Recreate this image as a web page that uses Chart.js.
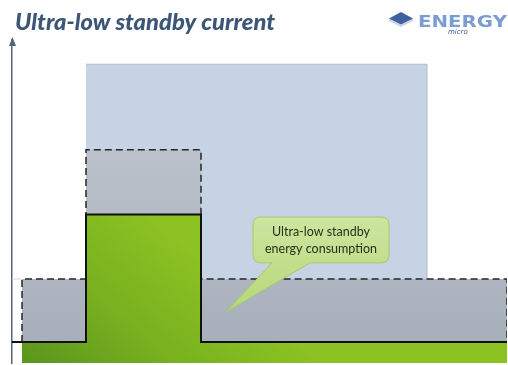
<!DOCTYPE html>
<html>
<head>
<meta charset="utf-8">
<script src="https://cdn.jsdelivr.net/npm/chart.js@4/dist/chart.umd.min.js"></script>
<style>
  html, body { margin: 0; padding: 0; background: #ffffff; overflow: hidden; }
  #wrap { width: 508px; height: 365px; position: relative; }
</style>
</head>
<body>
<div id="wrap"><canvas id="c" width="508" height="365"></canvas></div>
<script>
// Supply current over time (arbitrary units): standby, active burst, standby again
const currentTime  = [0, 2, 14.8, 37.8, 99];
const currentLevel = [6.5, 6.5, 46, 6.5, 6.5];

// Consumption of a conventional MCU (dashed envelope)
const envelopeTime  = [2, 2, 14.8, 37.8, 99, 99];
const envelopeLevel = [6.5, 26, 66, 26, 26, 6.5];

// Active-mode window in the background
const activeTime  = [14.8, 83, 83];
const activeLevel = [92.5, 92.5, 0];

// Short reference mark for the standby level left of the trace
const guideTime  = [0, 2];
const guideLevel = [26, 26];

const titleText = 'Ultra-low standby current';
const calloutLines = ['Ultra-low standby', 'energy consumption'];

const pts = (xs, ys) => xs.map((x, i) => ({ x, y: ys[i] }));

function greenFill(context) {
  const { chart } = context;
  const a = chart.chartArea;
  if (!a) return '#7cb31f';
  const g = chart.ctx.createLinearGradient(a.left + 10, a.bottom, a.left + 138, a.bottom - 149);
  g.addColorStop(0, '#5b951d');
  g.addColorStop(0.5, '#78b01f');
  g.addColorStop(1, '#8cc222');
  return g;
}
function grayFill(context) {
  const { chart } = context;
  const a = chart.chartArea;
  if (!a) return '#aab2bd';
  const g = chart.ctx.createLinearGradient(0, a.top + 100, 0, a.bottom);
  g.addColorStop(0, '#bbc2cc');
  g.addColorStop(1, '#a5adb8');
  return g;
}

const axisArrow = {
  id: 'axisArrow',
  afterDraw(chart) {
    const { ctx } = chart;
    const s = chart.scales.y;
    const x = Math.round(s.right) + 0.5;
    const top = chart.chartArea.top;
    ctx.save();
    ctx.fillStyle = '#55657a';
    ctx.beginPath();
    ctx.moveTo(x, top - 3);
    ctx.lineTo(x - 3.5, top + 6);
    ctx.lineTo(x + 3.5, top + 6);
    ctx.closePath();
    ctx.fill();
    ctx.restore();
  }
};

const callout = {
  id: 'callout',
  afterDatasetsDraw(chart, args, o) {
    const { ctx } = chart;
    const { x, y } = chart.scales;
    const l = x.getPixelForValue(o.box[0]), r = x.getPixelForValue(o.box[1]);
    const t = y.getPixelForValue(o.box[2]), b = y.getPixelForValue(o.box[3]);
    const tx = x.getPixelForValue(o.tip[0]), ty = y.getPixelForValue(o.tip[1]);
    const b1 = x.getPixelForValue(o.base[0]), b2 = x.getPixelForValue(o.base[1]);
    const rad = 8;
    ctx.save();
    ctx.beginPath();
    ctx.moveTo(l + rad, t);
    ctx.lineTo(r - rad, t);
    ctx.quadraticCurveTo(r, t, r, t + rad);
    ctx.lineTo(r, b - rad);
    ctx.quadraticCurveTo(r, b, r - rad, b);
    ctx.lineTo(b2, b);
    ctx.lineTo(tx, ty);
    ctx.lineTo(b1, b);
    ctx.lineTo(l + rad, b);
    ctx.quadraticCurveTo(l, b, l, b - rad);
    ctx.lineTo(l, t + rad);
    ctx.quadraticCurveTo(l, t, l + rad, t);
    ctx.closePath();
    const g = ctx.createLinearGradient(0, t, 0, ty);
    g.addColorStop(0, '#cde5a0');
    g.addColorStop(1, '#b6d878');
    ctx.fillStyle = g;
    ctx.fill();
    ctx.strokeStyle = '#a6cb66';
    ctx.lineWidth = 1;
    ctx.stroke();
    ctx.fillStyle = '#27301c';
    ctx.font = '12.5px Lato, "Open Sans", sans-serif';
    ctx.textAlign = 'center';
    ctx.textBaseline = 'alphabetic';
    const cx = (l + r) / 2;
    o.lines.forEach((s, i) => {
      ctx.fillText(s, cx, o.baseline + i * 16.5);
    });
    ctx.restore();
  }
};

const header = {
  id: 'header',
  afterDraw(chart, args, o) {
    const { ctx } = chart;
    ctx.save();
    // title
    ctx.fillStyle = '#3b5676';
    ctx.font = 'italic 900 23.5px Lato, "Open Sans", sans-serif';
    ctx.textBaseline = 'alphabetic';
    ctx.textAlign = 'left';
    const tw = ctx.measureText(o.title).width;
    ctx.save();
    ctx.translate(15, 30);
    ctx.scale(260 / tw, 1);
    ctx.fillText(o.title, 0, 0);
    ctx.restore();

    // logo mark
    ctx.fillStyle = '#cbd4e3';
    ctx.beginPath();
    ctx.moveTo(389, 18.5); ctx.lineTo(401, 24.5); ctx.lineTo(413, 18.5);
    ctx.lineTo(413, 21); ctx.lineTo(401, 27); ctx.lineTo(389, 21);
    ctx.closePath(); ctx.fill();
    ctx.fillStyle = '#3f61a0';
    ctx.beginPath();
    ctx.moveTo(389, 18.5); ctx.lineTo(401, 12); ctx.lineTo(413, 18.5); ctx.lineTo(401, 24.5);
    ctx.closePath(); ctx.fill();

    // logo wordmark
    ctx.fillStyle = '#7b9dd4';
    ctx.font = 'bold 16.5px "DejaVu Sans", sans-serif';
    const w = ctx.measureText('ENERGY').width;
    ctx.save();
    ctx.translate(418, 27);
    ctx.scale(89 / w, 1);
    ctx.fillText('ENERGY', 0, 0);
    ctx.restore();
    ctx.fillStyle = '#3a5791';
    ctx.font = 'italic 7px "DejaVu Sans", sans-serif';
    ctx.fillText('micro', 448, 33.5);
    ctx.restore();
  }
};

new Chart(document.getElementById('c'), {
  type: 'line',
  data: {
    datasets: [
      {
        label: 'Current',
        data: pts(currentTime, currentLevel),
        stepped: true,
        borderColor: '#111111',
        borderWidth: 2,
        fill: false,
        pointRadius: 0
      },
      {
        label: 'Current area',
        data: pts(currentTime.slice(1), currentLevel.slice(1)),
        stepped: true,
        borderWidth: 0,
        borderColor: 'rgba(0,0,0,0)',
        backgroundColor: greenFill,
        fill: 'origin',
        pointRadius: 0
      },
      {
        label: 'Standard MCU',
        data: pts(envelopeTime, envelopeLevel),
        stepped: true,
        borderColor: '#262626',
        borderWidth: 1.5,
        borderDash: [7, 4],
        backgroundColor: grayFill,
        fill: 'origin',
        pointRadius: 0
      },
      {
        label: 'Standby level',
        data: pts(guideTime, guideLevel),
        borderColor: '#d3d7dd',
        borderWidth: 1,
        fill: false,
        pointRadius: 0
      },
      {
        label: 'Active window',
        data: pts(activeTime, activeLevel),
        stepped: true,
        borderColor: '#b4bcc7',
        borderWidth: 1,
        backgroundColor: '#c5d3e4',
        fill: 'origin',
        pointRadius: 0
      }
    ]
  },
  options: {
    responsive: false,
    animation: false,
    events: [],
    layout: { padding: { left: 12, right: 1, top: 40, bottom: 2 } },
    scales: {
      x: { type: 'linear', min: 0, max: 99, display: false },
      y: {
        min: 0, max: 100,
        display: true,
        ticks: { display: false },
        grid: { display: false, drawTicks: false },
        border: { display: true, color: '#55657a', width: 1.5 },
        afterFit(s) { s.width = 0; }
      }
    },
    plugins: {
      legend: { display: false },
      tooltip: { enabled: false },
      title: { display: false },
      callout: {
        box: [48.2, 75.4, 45.2, 31],
        tip: [42.8, 15.8],
        base: [52, 59.6],
        baseline: 236,
        lines: calloutLines
      },
      header: { title: titleText }
    }
  },
  plugins: [axisArrow, callout, header]
});
</script>
</body>
</html>
